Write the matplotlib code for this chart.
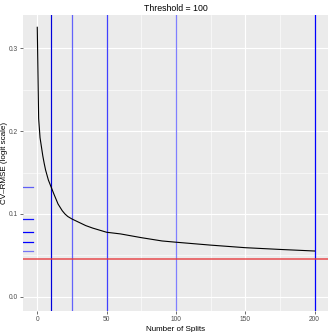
import matplotlib
matplotlib.use('Agg')
import matplotlib.pyplot as plt
import matplotlib.transforms as mtransforms
import numpy as np

plt.rcParams['font.family'] = ['Liberation Sans', 'DejaVu Sans']

# curve
n_splits = [0, 1, 2, 3, 4, 5, 6, 8, 10, 12, 15, 18, 20, 22, 25, 30, 35, 40,
            50, 60, 75, 90, 100, 125, 150, 175, 200]
cv_rmse = [0.325, 0.215, 0.192, 0.181, 0.170, 0.161, 0.153, 0.141, 0.1325,
           0.124, 0.112, 0.104, 0.100, 0.097, 0.094, 0.090, 0.086, 0.083,
           0.078, 0.076, 0.0715, 0.0675, 0.066, 0.0625, 0.0594, 0.0573, 0.0554]

# marked split counts and their rmse (rug on the left)
mark_x = [10, 25, 50, 100, 200]
mark_alpha = [0.85, 0.6, 0.75, 0.5, 1.0]
rug_y = [0.1325, 0.094, 0.078, 0.066, 0.0554]
rug_alpha = [0.6, 0.9, 1.0, 1.0, 0.5]
threshold_rmse = 0.046

fig = plt.figure(figsize=(3.32, 3.32), dpi=100)
ax = fig.add_axes([23.4 / 332, 1 - 311 / 332, 305 / 332, 296 / 332])
ax.set_facecolor('#EBEBEB')
for s in ax.spines.values():
    s.set_visible(False)

ax.set_xlim(-10, 210)
ax.set_ylim(-0.0169, 0.3398)
ax.set_xticks([0, 50, 100, 150, 200])
ax.set_xticks([25, 75, 125, 175], minor=True)
ax.set_yticks([0.0, 0.1, 0.2, 0.3])
ax.set_yticks([0.05, 0.15, 0.25], minor=True)
ax.set_yticklabels(['0.0', '0.1', '0.2', '0.3'])
ax.grid(True, which='major', color='white', linewidth=0.8)
ax.grid(True, which='minor', color='white', linewidth=0.4)
ax.set_axisbelow(True)
ax.tick_params(which='major', length=2.2, width=0.5, color='#333333',
               labelsize=4.8, labelcolor='#4D4D4D', pad=1.5)
ax.tick_params(which='minor', length=0)

ax.axvline(10, color='black', linewidth=0.7, zorder=2)
for xv, a in zip(mark_x, mark_alpha):
    ax.axvline(xv, color='blue', alpha=a, linewidth=0.9, zorder=3)

ax.axhline(threshold_rmse, color='#E8383B', alpha=0.7, linewidth=1.4, zorder=3)

trans = mtransforms.blended_transform_factory(ax.transAxes, ax.transData)
for yv, a in zip(rug_y, rug_alpha):
    ax.plot([0, 0.03], [yv, yv], color='blue', alpha=a, linewidth=0.9,
            transform=trans, zorder=3)

ax.plot(n_splits, cv_rmse, color='black', linewidth=0.8, zorder=4)

ax.set_title('Threshold = 100', fontsize=6.3, pad=3)
ax.set_xlabel('Number of Splits', fontsize=5.8, labelpad=2)
ax.set_ylabel('CV\u2013RMSE (logit scale)', fontsize=5.8)
ax.yaxis.set_label_coords(-0.052, 0.5)

fig.savefig('out.png', dpi=100)
